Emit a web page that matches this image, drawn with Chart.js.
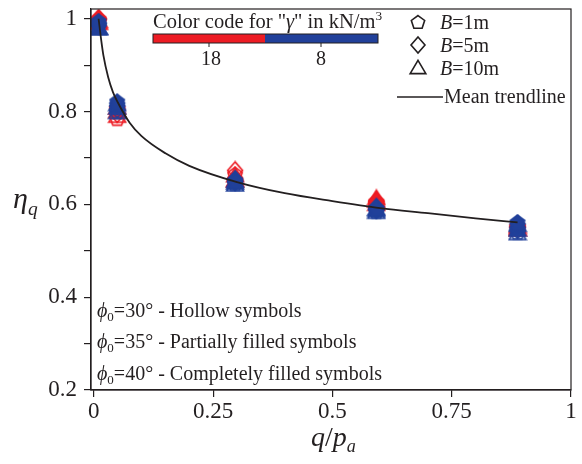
<!DOCTYPE html>
<html>
<head>
<meta charset="utf-8">
<script src="https://cdn.jsdelivr.net/npm/chart.js@4.4.1/dist/chart.umd.min.js"></script>
<style>
  html, body { margin: 0; padding: 0; background: #fff; }
  #wrap { width: 582px; height: 464px; }
</style>
</head>
<body>
<div id="wrap"><canvas id="etaChart" width="582" height="464"></canvas></div>
<script>
// normalised surcharge q/pa
const qpa = [0.0099, 0.049, 0.296, 0.592, 0.888];

// eta_q values, one row per footing width B = 1, 5, 10 m
// gamma = 18 kN/m3 (red)
const etaRed30 = [[0.995, 0.785, 0.665, 0.598, 0.548], [1.0, 0.795, 0.673, 0.600, 0.550], [0.990, 0.790, 0.662, 0.600, 0.545]];
const etaRed35 = [[0.995, 0.800, 0.654, 0.603, 0.550], [0.998, 0.805, 0.656, 0.605, 0.552], [0.992, 0.800, 0.652, 0.607, 0.548]];
const etaRed40 = [[1.0, 0.805, 0.650, 0.606, 0.553], [1.0, 0.810, 0.652, 0.608, 0.555], [0.995, 0.808, 0.650, 0.613, 0.552]];
// gamma = 8 kN/m3 (blue)
const etaBlue30 = [[0.985, 0.800, 0.645, 0.585, 0.540], [0.990, 0.805, 0.648, 0.588, 0.545], [0.980, 0.798, 0.642, 0.583, 0.537]];
const etaBlue35 = [[0.990, 0.810, 0.648, 0.588, 0.548], [0.985, 0.812, 0.650, 0.590, 0.550], [0.980, 0.808, 0.646, 0.587, 0.545]];
const etaBlue40 = [[0.995, 0.822, 0.652, 0.592, 0.562], [0.990, 0.818, 0.654, 0.594, 0.558], [0.978, 0.815, 0.650, 0.590, 0.555]];

// mean trendline
const trendX = [0.0099, 0.015, 0.02, 0.03, 0.04, 0.05, 0.075, 0.1, 0.15, 0.2, 0.3, 0.4, 0.5, 0.6, 0.7, 0.8, 0.888];
const trendEta = [1.0, 0.957, 0.921, 0.874, 0.842, 0.820, 0.776, 0.747, 0.710, 0.683, 0.648, 0.624, 0.607, 0.592, 0.581, 0.570, 0.561];

// ticks
const xTicks = [0, 0.25, 0.5, 0.75, 1];
const xTickLabels = ['0', '0.25', '0.5', '0.75', '1'];
const yTicks = [0.2, 0.3, 0.4, 0.5, 0.6, 0.7, 0.8, 0.9, 1.0];
const yTickLabels = ['0.2', '', '0.4', '', '0.6', '', '0.8', '', '1'];

const shapes = ['pentagon', 'diamond', 'triangle'];
const RED = '#ed1c24';
const BLUE = '#21409a';
const INK = '#231f20';
const SERIF = '"Liberation Serif", "Times New Roman", serif';
const MK = 20;      // marker canvas size
const MR = 7.5;     // marker radius

function shapePath(g, shape, cx, cy, r) {
  g.beginPath();
  if (shape === 'pentagon') {
    for (let k = 0; k < 5; k++) {
      const a = (-90 + 72 * k) * Math.PI / 180;
      const px = cx + r * Math.cos(a), py = cy + 0.6 + r * Math.sin(a);
      k ? g.lineTo(px, py) : g.moveTo(px, py);
    }
  } else if (shape === 'diamond') {
    g.moveTo(cx, cy - r * 1.15);
    g.lineTo(cx + r, cy);
    g.lineTo(cx, cy + r * 1.15);
    g.lineTo(cx - r, cy);
  } else {
    g.moveTo(cx, cy - r * 1.1);
    g.lineTo(cx + r * 1.12, cy + r * 0.8);
    g.lineTo(cx - r * 1.12, cy + r * 0.8);
  }
  g.closePath();
}

// marker image: hollow, half (lower half filled) or full
function makeMarker(shape, color, fill, r) {
  r = r || MR;
  const c = document.createElement('canvas');
  c.width = c.height = MK;
  const g = c.getContext('2d');
  const m = MK / 2;
  g.lineWidth = 1.6;
  g.strokeStyle = color;
  g.fillStyle = color;
  shapePath(g, shape, m, m, r);
  if (fill === 'full') g.fill();
  if (fill === 'half') {
    g.save();
    g.clip();
    g.fillRect(0, m, MK, m);
    g.restore();
    shapePath(g, shape, m, m, r);
  }
  g.stroke();
  return c;
}

function series(rows, color, fill) {
  return rows.map((vals, b) => ({
    data: qpa.map((x, i) => ({ x: x, y: vals[i] })),
    pointStyle: makeMarker(shapes[b], color, fill),
    pointRadius: 8,
    showLine: false
  }));
}

// rich text: runs of [text, style] with style n / i / sub / sup / isub
function drawRuns(ctx, x, y, runs, size) {
  let cx = x;
  ctx.textAlign = 'left';
  ctx.textBaseline = 'alphabetic';
  for (const [t, st] of runs) {
    let fs = size, dy = 0;
    const ital = st.includes('i');
    if (st.includes('sub')) { fs = size * 0.65; dy = size * 0.22; }
    if (st.includes('sup')) { fs = size * 0.65; dy = -size * 0.4; }
    ctx.font = (ital ? 'italic ' : '') + fs + 'px ' + SERIF;
    ctx.fillText(t, cx, y + dy);
    cx += ctx.measureText(t).width;
  }
  return cx;
}

const decor = {
  id: 'decor',
  afterDraw(chart) {
    const ctx = chart.ctx;
    const a = chart.chartArea;
    ctx.save();
    ctx.strokeStyle = INK;
    ctx.fillStyle = INK;
    ctx.lineWidth = 1.2;
    ctx.strokeRect(a.left, a.top, a.right - a.left, a.bottom - a.top);

    // colour bar for unit weight
    drawRuns(ctx, 153, 28, [['Color code for "', 'n'], ['γ', 'i'], ['" in kN/m', 'n'], ['3', 'sup']], 20.5);
    ctx.fillStyle = RED;
    ctx.fillRect(153, 34, 112, 9);
    ctx.fillStyle = BLUE;
    ctx.fillRect(265, 34, 113, 9);
    ctx.strokeStyle = INK;
    ctx.lineWidth = 1;
    ctx.strokeRect(153, 34, 225, 9);
    ctx.beginPath();
    ctx.moveTo(209, 43); ctx.lineTo(209, 47);
    ctx.moveTo(321, 43); ctx.lineTo(321, 47);
    ctx.stroke();
    ctx.fillStyle = INK;
    ctx.font = '20px ' + SERIF;
    ctx.textAlign = 'center';
    ctx.fillText('18', 211, 65);
    ctx.fillText('8', 321, 65);

    // legend
    const legY = [22, 45, 68];
    const legText = ['=1m', '=5m', '=10m'];
    shapes.forEach((s, i) => {
      ctx.drawImage(makeMarker(s, INK, 'hollow', 7), 418 - MK / 2, legY[i] - MK / 2);
      drawRuns(ctx, 440, legY[i] + 7, [['B', 'i'], [legText[i], 'n']], 20);
    });
    ctx.lineWidth = 1.6;
    ctx.beginPath();
    ctx.moveTo(397, 97);
    ctx.lineTo(443, 97);
    ctx.stroke();
    drawRuns(ctx, 444, 103, [['Mean trendline', 'n']], 20);

    // friction angle notes
    const notes = [['30', 'Hollow symbols', 317], ['35', 'Partially filled symbols', 348], ['40', 'Completely filled symbols', 380]];
    notes.forEach(([phi, txt, y]) => {
      drawRuns(ctx, 97, y, [['ϕ', 'i'], ['0', 'sub'], ['=' + phi + '° - ' + txt, 'n']], 20);
    });

    // axis titles
    drawRuns(ctx, 13, 208, [['η', 'i'], ['q', 'isub']], 30);
    drawRuns(ctx, 311, 446, [['q', 'i'], ['/', 'n'], ['p', 'i'], ['a', 'isub']], 28);
    ctx.restore();
  }
};

const datasets = [
  {
    data: trendX.map((x, i) => ({ x: x, y: trendEta[i] })),
    showLine: true,
    borderColor: INK,
    borderWidth: 1.8,
    pointRadius: 0,
    cubicInterpolationMode: 'monotone'
  },
  ...series(etaBlue40, BLUE, 'full'),
  ...series(etaBlue35, BLUE, 'half'),
  ...series(etaBlue30, BLUE, 'hollow'),
  ...series(etaRed40, RED, 'full'),
  ...series(etaRed35, RED, 'half'),
  ...series(etaRed30, RED, 'hollow')
];

const axisGrid = { drawOnChartArea: false, drawTicks: true, tickLength: 7, color: INK, lineWidth: 1.2 };

new Chart(document.getElementById('etaChart'), {
  type: 'scatter',
  data: { datasets: datasets },
  plugins: [decor],
  options: {
    responsive: false,
    animation: false,
    layout: { padding: { left: 0, right: 11, top: 3, bottom: 0 } },
    plugins: { legend: { display: false }, tooltip: { enabled: false } },
    scales: {
      x: {
        type: 'linear',
        min: -0.006,
        max: 1,
        afterBuildTicks: s => { s.ticks = xTicks.map(v => ({ value: v })); },
        afterFit: s => { s.height = 74; s.paddingLeft = 0; s.paddingRight = 0; },
        ticks: {
          callback: (v, i) => xTickLabels[i],
          font: { family: SERIF, size: 23 },
          color: INK,
          padding: 1,
          maxRotation: 0,
          autoSkip: false
        },
        grid: axisGrid,
        border: { color: INK, width: 1.2 }
      },
      y: {
        type: 'linear',
        min: 0.2,
        max: 1.021,
        afterBuildTicks: s => { s.ticks = yTicks.map(v => ({ value: v })); },
        afterFit: s => { s.width = 91; s.paddingTop = 0; s.paddingBottom = 0; },
        ticks: {
          callback: (v, i) => yTickLabels[i],
          font: { family: SERIF, size: 23 },
          color: INK,
          padding: 7,
          autoSkip: false
        },
        grid: axisGrid,
        border: { color: INK, width: 1.2 }
      }
    }
  }
});
</script>
</body>
</html>
